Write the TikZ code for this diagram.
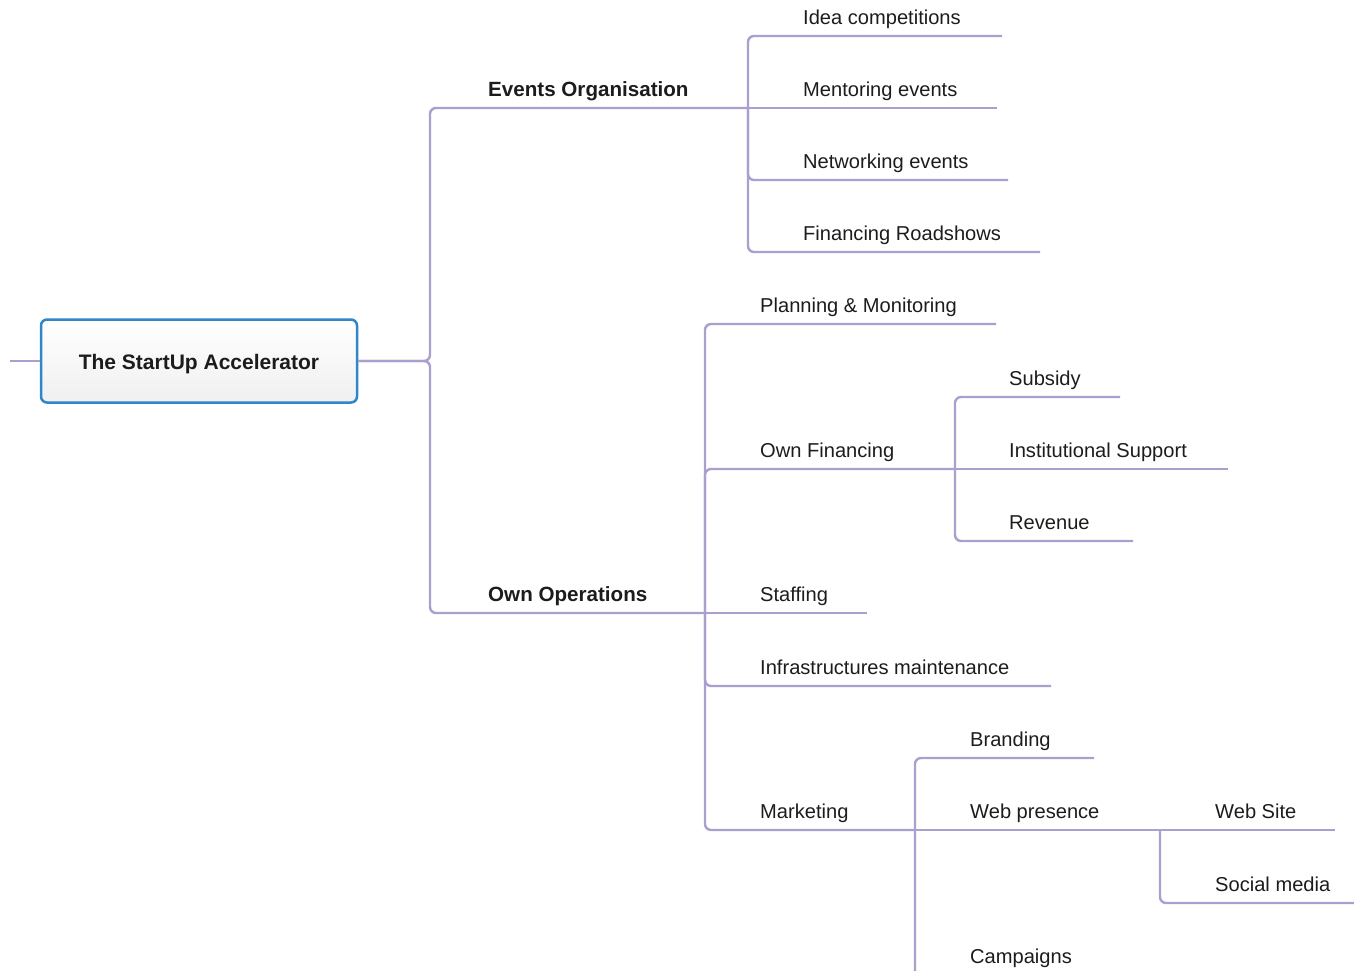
\documentclass[tikz,border=0pt]{standalone}
\usepackage{fontspec}
\setmainfont{Liberation Sans}
\definecolor{linec}{HTML}{AA9FCF}
\definecolor{boxc}{HTML}{2F86C9}
\definecolor{txtc}{HTML}{1C1C1C}
\begin{document}
\begin{tikzpicture}[x=1pt,y=-1pt]
\tikzset{
  link/.style={draw=linec, line width=2.4pt, rounded corners=6pt},
  lbl/.style={anchor=base west, inner sep=0pt, text=txtc, font=\fontsize{20.1}{24}\selectfont},
  blbl/.style={lbl, font=\bfseries\fontsize{20.6}{24}\selectfont},
  rootbox/.style={draw=boxc, line width=2.5pt, rounded corners=6pt, top color=white, bottom color=black!6, minimum width=316pt, minimum height=83pt, inner sep=0pt},
  roottext/.style={anchor=center, inner sep=0pt, text=txtc, font=\bfseries\fontsize{21}{25}\selectfont}
}
\useasboundingbox (0,0) rectangle (1354,970);
\clip (0,0) rectangle (1354,970);

% junction / end coordinates
\coordinate (stub) at (10,361);
\coordinate (rj) at (430,361);
\coordinate (evtE) at (748,108);
\coordinate (opsE) at (705,613);
\coordinate (ideaE) at (1002,36);
\coordinate (mentE) at (997,108);
\coordinate (netE) at (1008,180);
\coordinate (finrE) at (1040,252);
\coordinate (planE) at (996,324);
\coordinate (finJ) at (955,469);
\coordinate (staffE) at (867,613);
\coordinate (infraE) at (1051,686);
\coordinate (mktJ) at (915,830);
\coordinate (subsE) at (1120,397);
\coordinate (instE) at (1228,469);
\coordinate (revE) at (1133,541);
\coordinate (brandE) at (1094,758);
\coordinate (webJ) at (1160,830);
\coordinate (campE) at (1100,976);
\coordinate (siteE) at (1335,830);
\coordinate (socE) at (1362,903);

% root
\node[rootbox] (root) at (199,361) {};
\node[roottext] (rootlbl) at (199,364.5) {The StartUp Accelerator};

% connectors
\draw[link] (stub) -- (root.west);
\draw[link] (root.east) -- (rj) |- (evtE);
\draw[link] (root.east) -- (rj) |- (opsE);
\draw[link] (evtE) |- (ideaE);
\draw[link] (evtE) -- (mentE);
\draw[link] (evtE) |- (netE);
\draw[link] (evtE) |- (finrE);
\draw[link] (opsE) |- (planE);
\draw[link] (opsE) |- (finJ);
\draw[link] (opsE) -- (staffE);
\draw[link] (opsE) |- (infraE);
\draw[link] (opsE) |- (mktJ);
\draw[link] (finJ) |- (subsE);
\draw[link] (finJ) -- (instE);
\draw[link] (finJ) |- (revE);
\draw[link] (mktJ) |- (brandE);
\draw[link] (mktJ) -- (webJ);
\draw[link] (mktJ) |- (campE);
\draw[link] (webJ) -- (siteE);
\draw[link] (webJ) |- (socE);

% labels
\node[blbl] (evt) at (488,96) {Events Organisation};
\node[blbl] (ops) at (488,601) {Own Operations};
\node[lbl] (idea) at (803,24) {Idea competitions};
\node[lbl] (ment) at (803,96) {Mentoring events};
\node[lbl] (net) at (803,168) {Networking events};
\node[lbl] (finr) at (803,240) {Financing Roadshows};
\node[lbl] (plan) at (760,312) {Planning \& Monitoring};
\node[lbl] (ownfin) at (760,457) {Own Financing};
\node[lbl] (staff) at (760,601) {Staffing};
\node[lbl] (infra) at (760,674) {Infrastructures maintenance};
\node[lbl] (mkt) at (760,818) {Marketing};
\node[lbl] (subs) at (1009,385) {Subsidy};
\node[lbl] (inst) at (1009,457) {Institutional Support};
\node[lbl] (rev) at (1009,529) {Revenue};
\node[lbl] (brand) at (970,746) {Branding};
\node[lbl] (web) at (970,818) {Web presence};
\node[lbl] (camp) at (970,963) {Campaigns};
\node[lbl] (site) at (1215,818) {Web Site};
\node[lbl] (social) at (1215,891) {Social media};
\end{tikzpicture}
\end{document}
